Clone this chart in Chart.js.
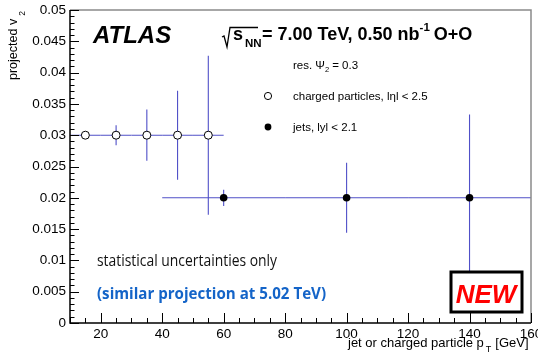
<!DOCTYPE html>
<html><head><meta charset="utf-8">
<script src="https://cdn.jsdelivr.net/npm/chart.js@4/dist/chart.umd.min.js"></script>
<style>html,body{margin:0;padding:0;background:#fff;}#wrap{width:538px;height:361px;}</style>
</head><body><div id="wrap"><canvas id="c" width="538" height="361"></canvas></div>
<script>
// ---- data ----
const chargedPt = [15, 25, 35, 45, 55];
const chargedV2 = [0.03, 0.03, 0.03, 0.03, 0.03];
const chargedPtErr = [5, 5, 5, 5, 5];
const chargedV2Err = [0.0004, 0.0016, 0.0041, 0.0071, 0.0127];
const jetPt = [60, 100, 140];
const jetV2 = [0.02, 0.02, 0.02];
const jetPtErr = [20, 20, 20];
const jetV2Err = [0.0013, 0.0056, 0.0133];
const yTickValues = [0, 0.005, 0.01, 0.015, 0.02, 0.025, 0.03, 0.035, 0.04, 0.045, 0.05];
const yTickLabels = ["0", "0.005", "0.01", "0.015", "0.02", "0.025", "0.03", "0.035", "0.04", "0.045", "0.05"];
const xTickValues = [20, 40, 60, 80, 100, 120, 140, 160];
const xTickLabels = ["20", "40", "60", "80", "100", "120", "140", "160"];

const SANS = '"Liberation Sans", Arial, Helvetica, sans-serif';
const NARROW = '"Liberation Sans Narrow", "Open Sans", sans-serif';
const ERR = 'rgb(80,80,200)';

const errorBars = {
  id: 'errorBars',
  beforeDatasetsDraw(chart) {
    const ctx = chart.ctx, xs = chart.scales.x, ys = chart.scales.y;
    ctx.save();
    ctx.strokeStyle = ERR; ctx.lineWidth = 1.1;
    chart.data.datasets.forEach(ds => {
      ds.data.forEach(p => {
        const px = xs.getPixelForValue(p.x), py = ys.getPixelForValue(p.y);
        ctx.beginPath();
        ctx.moveTo(xs.getPixelForValue(p.x - p.xe), py);
        ctx.lineTo(xs.getPixelForValue(p.x + p.xe), py);
        ctx.moveTo(px, ys.getPixelForValue(p.y - p.ye));
        ctx.lineTo(px, ys.getPixelForValue(p.y + p.ye));
        ctx.stroke();
      });
    });
    ctx.restore();
  }
};

function fitText(ctx, txt, x, y, targetW) {
  const w = ctx.measureText(txt).width;
  ctx.save();
  ctx.translate(x, y);
  ctx.scale(targetW / w, 1);
  ctx.fillText(txt, 0, 0);
  ctx.restore();
}

const decor = {
  id: 'decor',
  afterDraw(chart) {
    const ctx = chart.ctx, xs = chart.scales.x, ys = chart.scales.y, a = chart.chartArea;
    ctx.save();
    // frame
    ctx.strokeStyle = '#8a8a8a'; ctx.lineWidth = 1.5;
    ctx.beginPath(); ctx.moveTo(a.left, a.top); ctx.lineTo(a.right, a.top); ctx.lineTo(a.right, a.bottom); ctx.stroke();
    ctx.strokeStyle = '#000'; ctx.lineWidth = 1.5;
    ctx.beginPath(); ctx.moveTo(a.left, a.top); ctx.lineTo(a.left, a.bottom); ctx.lineTo(a.right, a.bottom); ctx.stroke();
    // ticks (inward)
    ctx.lineWidth = 1;
    ctx.beginPath();
    for (let i = 0; i <= 50; i++) {
      const v = i * 0.001; const py = Math.round(ys.getPixelForValue(v)) + 0.5;
      const len = (i % 5 === 0) ? 9 : 4.5;
      ctx.moveTo(a.left, py); ctx.lineTo(a.left + len, py);
    }
    for (let v = 10; v <= 160; v += 5) {
      const px = Math.round(xs.getPixelForValue(v)) + 0.5;
      const len = (v % 20 === 0) ? 10 : 5;
      ctx.moveTo(px, a.bottom); ctx.lineTo(px, a.bottom - len);
    }
    ctx.stroke();
    // tick labels
    ctx.fillStyle = '#000';
    ctx.font = '13.5px ' + SANS;
    ctx.textAlign = 'right'; ctx.textBaseline = 'middle';
    yTickValues.forEach((v, i) => ctx.fillText(yTickLabels[i], a.left - 4, ys.getPixelForValue(v)));
    ctx.textAlign = 'center'; ctx.textBaseline = 'alphabetic';
    xTickValues.forEach((v, i) => ctx.fillText(xTickLabels[i], xs.getPixelForValue(v), 338));
    // x title
    ctx.textAlign = 'left';
    ctx.font = '13px ' + SANS;
    let t1 = 'jet or charged particle p';
    let tx = 348;
    ctx.fillText(t1, tx, 347); tx += ctx.measureText(t1).width + 2;
    ctx.font = '9px ' + SANS; ctx.fillText('T', tx, 352); tx += ctx.measureText('T').width + 4;
    ctx.font = '13px ' + SANS; ctx.fillText('[GeV]', tx, 347);
    // y title
    ctx.save();
    ctx.translate(17, 80); ctx.rotate(-Math.PI / 2);
    ctx.font = '12.5px ' + SANS; ctx.textAlign = 'left';
    ctx.fillText('projected v', 0, 0);
    const yw = ctx.measureText('projected v').width;
    ctx.font = '8.5px ' + SANS; ctx.fillText('2', yw + 3, 8);
    ctx.restore();
    // ATLAS
    ctx.font = 'italic bold 24px ' + SANS;
    ctx.fillText('ATLAS', 93, 43);
    // sqrt(sNN)
    ctx.lineWidth = 1.3;
    ctx.beginPath();
    ctx.moveTo(222, 37); ctx.lineTo(224, 36); ctx.lineTo(227, 47); ctx.lineTo(230, 27.5); ctx.lineTo(258, 27.5);
    ctx.stroke();
    ctx.font = 'bold 18px ' + SANS;
    ctx.fillText('s', 233, 40);
    ctx.font = 'bold 11.5px ' + SANS;
    ctx.fillText('NN', 245, 47);
    ctx.font = 'bold 18px ' + SANS;
    let hx = 262; const h1 = '= 7.00 TeV, 0.50 nb';
    ctx.fillText(h1, hx, 40); hx += ctx.measureText(h1).width;
    ctx.font = 'bold 11.5px ' + SANS; ctx.fillText('-1', hx, 31); hx += ctx.measureText('-1').width + 4;
    ctx.font = 'bold 18px ' + SANS; ctx.fillText('O+O', hx, 40);
    // res psi
    ctx.font = '11.5px ' + SANS;
    ctx.fillText('res. \u03A8', 293, 69);
    const rw = ctx.measureText('res. \u03A8').width;
    ctx.font = '7.5px ' + SANS; ctx.fillText('2', 293 + rw, 72);
    ctx.font = '11.5px ' + SANS; ctx.fillText(' = 0.3', 293 + rw + 4, 69);
    // legend
    ctx.fillText('charged particles, l\u03B7l < 2.5', 293, 100);
    ctx.fillText('jets, lyl < 2.1', 293, 131);
    ctx.beginPath(); ctx.arc(268, 96, 3.6, 0, Math.PI * 2);
    ctx.fillStyle = '#fff'; ctx.fill(); ctx.strokeStyle = '#000'; ctx.lineWidth = 1; ctx.stroke();
    ctx.beginPath(); ctx.arc(268, 127, 3.4, 0, Math.PI * 2); ctx.fillStyle = '#000'; ctx.fill();
    // notes
    ctx.fillStyle = '#111';
    ctx.font = '16px ' + NARROW;
    fitText(ctx, 'statistical uncertainties only', 97, 266, 180);
    ctx.fillStyle = 'rgb(20,100,200)';
    ctx.font = 'bold 16px ' + NARROW;
    fitText(ctx, '(similar projection at 5.02 TeV)', 97, 299, 229);
    // NEW box
    ctx.fillStyle = '#fff'; ctx.fillRect(451, 272, 71, 40);
    ctx.strokeStyle = '#000'; ctx.lineWidth = 3;
    ctx.strokeRect(451, 272, 71, 40);
    ctx.fillStyle = '#ff0000';
    ctx.font = 'italic bold 26px ' + SANS;
    ctx.textAlign = 'center';
    ctx.fillText('NEW', 486, 303);
    ctx.restore();
  }
};

new Chart(document.getElementById('c'), {
  type: 'scatter',
  data: {
    datasets: [
      {
        label: 'charged particles',
        data: chargedPt.map((x, i) => ({ x: x, y: chargedV2[i], xe: chargedPtErr[i], ye: chargedV2Err[i] })),
        pointRadius: 4, pointBackgroundColor: '#fff', pointBorderColor: '#000', pointBorderWidth: 1,
        showLine: false
      },
      {
        label: 'jets',
        data: jetPt.map((x, i) => ({ x: x, y: jetV2[i], xe: jetPtErr[i], ye: jetV2Err[i] })),
        pointRadius: 3.8, pointBackgroundColor: '#000', pointBorderColor: '#000', pointBorderWidth: 0,
        showLine: false
      }
    ]
  },
  options: {
    responsive: false, animation: false, devicePixelRatio: 1,
    layout: { padding: { left: 70, top: 10, right: 7, bottom: 38 } },
    plugins: { legend: { display: false }, tooltip: { enabled: false } },
    scales: {
      x: { type: 'linear', min: 10, max: 160, display: false },
      y: { type: 'linear', min: 0, max: 0.05, display: false }
    }
  },
  plugins: [errorBars, decor]
});
</script></body></html>
